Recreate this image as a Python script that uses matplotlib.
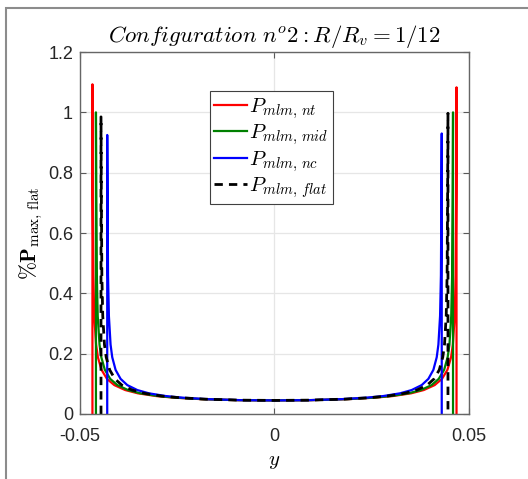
import numpy as np
import matplotlib
matplotlib.use("Agg")
from matplotlib import pyplot as plt
from matplotlib.patches import Rectangle

plt.rcParams["mathtext.fontset"] = "cm"
plt.rcParams["font.family"] = ["Liberation Sans", "DejaVu Sans"]

# half profiles (y >= 0); last point is the edge peak
y_nt = [0, 0.00936, 0.01872, 0.02574, 0.03042, 0.0351, 0.03838, 0.04118,
        0.04306, 0.04446, 0.0454, 0.04586, 0.04633, 0.04657, 0.04671, 0.0468]
y_mid = [0, 0.00918, 0.01836, 0.02525, 0.02984, 0.03443, 0.03764, 0.04039,
         0.04223, 0.04361, 0.04452, 0.04498, 0.04544, 0.04567, 0.04581, 0.0459]
y_flat = [0, 0.00892, 0.01784, 0.02453, 0.02899, 0.03345, 0.03657, 0.03925,
          0.04103, 0.04237, 0.04326, 0.04371, 0.04415, 0.04438, 0.04451, 0.0446]
y_nc = [0, 0.0086, 0.0172, 0.02365, 0.02795, 0.03225, 0.03526, 0.03784,
        0.03956, 0.04085, 0.04171, 0.04214, 0.04257, 0.04279, 0.04291, 0.0430]

p_half = [0.045, 0.0459, 0.0492, 0.0541, 0.0595, 0.0685, 0.0794, 0.0958,
          0.1164, 0.1463, 0.1882, 0.2302, 0.3251, 0.4596, 0.7267]

# edge peaks (left, right)
peak_nt = (1.093, 1.083)
peak_mid = (1.0, 1.0)
peak_flat = (0.985, 0.997)
peak_nc = (0.925, 0.93)

series = [
    (y_nt, peak_nt, "red", "-", r"$P_{mlm,\,nt}$"),
    (y_mid, peak_mid, "green", "-", r"$P_{mlm,\,mid}$"),
    (y_nc, peak_nc, "blue", "-", r"$P_{mlm,\,nc}$"),
    (y_flat, peak_flat, "black", "--", r"$P_{mlm,\,flat}$"),
]


def full_profile(y_half, peaks):
    yh = np.asarray(y_half)
    ph = np.asarray(p_half)
    edge = yh[-1]
    # left edge: drop to zero, peak, then curve towards centre
    x = np.concatenate(([-edge, -edge], -yh[-2:0:-1], yh[:-1], [edge, edge]))
    p = np.concatenate(([0, peaks[0]], ph[:0:-1], ph, [peaks[1], 0]))
    return x, p


fig = plt.figure(figsize=(5.28, 4.79), dpi=100)
ax = fig.add_axes([0.1515, 0.1357, 0.7367, 0.7557])

for y_half, peaks, color, ls, label in series:
    x, p = full_profile(y_half, peaks)
    if ls == "--":
        ax.plot(x, p, color=color, linestyle=ls, linewidth=2, dashes=(3, 2.2), label=label)
    else:
        ax.plot(x, p, color=color, linestyle=ls, linewidth=1.6, label=label)

ax.set_xlim(-0.05, 0.05)
ax.set_ylim(0, 1.2)
ax.set_xticks([-0.05, 0, 0.05])
ax.set_xticklabels(["-0.05", "0", "0.05"])
ax.set_yticks([0, 0.2, 0.4, 0.6, 0.8, 1.0, 1.2])
ax.set_yticklabels(["0", "0.2", "0.4", "0.6", "0.8", "1", "1.2"])
ax.grid(True, color="0.9", linewidth=0.9)
ax.set_axisbelow(True)
ax.tick_params(direction="in", top=True, right=True, length=4, width=0.8,
               labelsize=13, colors="0.35", labelcolor="0.15")
ax.tick_params(axis="x", pad=10)
ax.tick_params(axis="y", pad=5)
for s in ax.spines.values():
    s.set_color("0.4")
    s.set_linewidth(1.0)

ax.set_title(r"$Configuration\ n^o2: R/R_v = 1/12$", fontsize=16.5, pad=7)
ax.set_xlabel(r"$y$", fontsize=15, labelpad=5)
ax.set_ylabel(r"$\%\mathbf{P}_{\mathrm{max,\,flat}}$", fontsize=15.5, labelpad=2)

leg = ax.legend(loc="upper left", bbox_to_anchor=(0.334, 0.891), fontsize=15,
                handlelength=1.6, handletextpad=0.1, borderpad=0.2,
                labelspacing=0.08, borderaxespad=0, fancybox=False,
                framealpha=1, edgecolor="0.25")
leg.get_frame().set_linewidth(0.8)

fig.patches.append(Rectangle((6 / 528, -0.1), 1.2, 1.1 - 8 / 479,
                             transform=fig.transFigure, fill=False,
                             edgecolor="0.55", linewidth=1.5))

fig.savefig("out.png", dpi=100)
